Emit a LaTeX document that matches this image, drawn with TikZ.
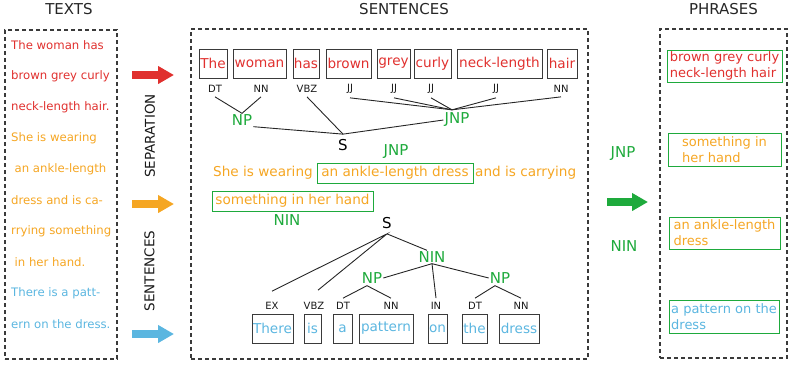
\documentclass[tikz,border=0pt]{standalone}
\usepackage{fontspec}
\setmainfont{DejaVu Sans}
\usetikzlibrary{arrows.meta,calc}
\definecolor{tred}{HTML}{E0302E}
\definecolor{torange}{HTML}{F5A623}
\definecolor{tblue}{HTML}{5BB6E0}
\definecolor{tgreen}{HTML}{1EAA3C}
\definecolor{tgray}{HTML}{3A3A3A}
\newcommand{\myfs}[2]{\fontsize{#1}{#2}\selectfont}
\begin{document}
\begin{tikzpicture}[x=1pt,y=-1pt,
  title/.style={font=\myfs{15}{18}, text=black!85, inner sep=0pt},
  panel/.style={draw=tgray, line width=1.1pt, dash pattern=on 4pt off 3pt, inner sep=0pt},
  ltext/.style={anchor=west, inner sep=0pt, font=\myfs{11.7}{14}},
  wbox/.style={draw=tgray, line width=1pt, minimum height=29pt, inner sep=0pt, font=\myfs{13.6}{16}},
  tag/.style={font=\myfs{10}{12}, text=black!90, inner sep=4pt},
  phr/.style={font=\myfs{15}{18}, text=tgreen, inner sep=1pt},
  snode/.style={font=\myfs{15}{18}, text=black, inner xsep=1pt, inner ysep=5pt},
  gbox/.style={draw=tgreen, line width=1pt, inner sep=0pt, font=\myfs{13.6}{16}},
  stext/.style={anchor=west, inner sep=0pt, font=\myfs{13.6}{16}, text=torange},
  rbox/.style={draw=tgreen, line width=1pt, inner sep=0pt, align=left, font=\myfs{13}{16}},
  tree/.style={draw=black!85, line width=0.9pt},
  bigarrow/.style={line width=8pt, -{Triangle[length=16pt,width=17pt]}},
  vtext/.style={rotate=90, font=\myfs{13.5}{16}, text=black!90, inner sep=0pt}
]
\useasboundingbox (0,0) rectangle (788,365);

% titles
\node[title] (ttexts) at (69,9) {TEXTS};
\node[title] (tsent) at (404,9) {SENTENCES};
\node[title] (tphr) at (723.5,9) {PHRASES};

% panels
\node[panel, minimum width=112pt, minimum height=329pt] (pL) at (61,194.5) {};
\node[panel, minimum width=397pt, minimum height=330pt] (pM) at (389.5,194) {};
\node[panel, minimum width=127pt, minimum height=329pt] (pR) at (723.5,193.5) {};

% left texts
\node[ltext, text=tred] (l1) at (11,45) {The woman has};
\node[ltext, text=tred] (l2) at (11,76) {brown grey curly};
\node[ltext, text=tred] (l3) at (11,107) {neck-length hair.};
\node[ltext, text=torange] (l4) at (11,138) {She is wearing};
\node[ltext, text=torange] (l5) at (14.5,169) {an ankle-length};
\node[ltext, text=torange] (l6) at (11,200) {dress and is ca-};
\node[ltext, text=torange] (l7) at (11,231) {rrying something};
\node[ltext, text=torange] (l8) at (14.5,262) {in her hand.};
\node[ltext, text=tblue] (l9) at (11,293) {There is a patt-};
\node[ltext, text=tblue] (l10) at (11,324) {ern on the dress.};

% arrows left
\coordinate (ar1) at (132,75);  \coordinate (ar2) at (174,75);
\coordinate (ao1) at (132,204); \coordinate (ao2) at (174,204);
\coordinate (ab1) at (132,334); \coordinate (ab2) at (174,334);
\draw[bigarrow, tred] (ar1) -- (ar2);
\draw[bigarrow, torange] (ao1) -- (ao2);
\draw[bigarrow, tblue] (ab1) -- (ab2);
\node[vtext] (vsep) at (150,136) {SEPARATION};
\node[vtext] (vsen) at (149.5,271) {SENTENCES};

% top sentence words
\node[wbox, text=tred, minimum width=28pt] (w1) at (213,63.5) {The};
\node[wbox, text=tred, minimum width=53pt] (w2) at (259.5,63.5) {woman};
\node[wbox, text=tred, minimum width=26pt] (w3) at (306,63.5) {has};
\node[wbox, text=tred, minimum width=45pt] (w4) at (348.5,63.5) {brown};
\node[wbox, text=tred, minimum width=33pt] (w5) at (393.5,63.5) {grey};
\node[wbox, text=tred, minimum width=37pt] (w6) at (432.5,63.5) {curly};
\node[wbox, text=tred, minimum width=85pt] (w7) at (499.5,63.5) {neck-length};
\node[wbox, text=tred, minimum width=30pt] (w8) at (562,63.5) {hair};

% top tags
\node[tag] (t1) at (215,89) {DT};
\node[tag] (t2) at (261,89) {NN};
\node[tag] (t3) at (307,89) {VBZ};
\node[tag] (t4) at (350,89) {JJ};
\node[tag] (t5) at (394,89) {JJ};
\node[tag] (t6) at (431,89) {JJ};
\node[tag] (t7) at (496,89) {JJ};
\node[tag] (t8) at (561,89) {NN};

\node[phr] (np1) at (242,120) {NP};
\node[phr] (jnp1) at (457,120) {JNP};
\node[snode] (s1) at (343,145) {S};

\draw[tree] (t1.south) -- (np1.north) -- (t2.south);
\draw[tree] (np1.south east) -- (s1.north) -- (jnp1.west);
\draw[tree] (t3.south) -- (s1.north);
\coordinate (jj) at ($(jnp1.north)+(-5,-2)$);
\foreach \t in {t4,t5,t6,t7,t8} \draw[tree] (\t.south) -- (jj);

% orange sentence
\node[phr] (jnp2) at (396,152) {JNP};
\node[stext] (o1) at (213,173) {She is wearing};
\node[gbox, text=torange, minimum width=156pt, minimum height=20pt] (o2) at (395,173) {an ankle-length dress};
\node[stext] (o3) at (475,173) {and is carrying};
\node[gbox, text=torange, minimum width=161pt, minimum height=20pt] (o4) at (292.5,201) {something in her hand};
\node[phr] (nin1) at (287,220) {NIN};

% lower tree
\node[snode] (s2) at (387,223) {S};
\node[phr] (nin2) at (432,257) {NIN};
\node[phr] (np2) at (372,278) {NP};
\node[phr] (np3) at (500,278) {NP};

\node[tag] (b1) at (272,306) {EX};
\node[tag] (b2) at (314,306) {VBZ};
\node[tag] (b3) at (343,306) {DT};
\node[tag] (b4) at (391,306) {NN};
\node[tag] (b5) at (436,306) {IN};
\node[tag] (b6) at (475,306) {DT};
\node[tag] (b7) at (521,306) {NN};

\draw[tree] ($(b1.north)+(0,-7)$) -- (s2.south) -- ($(b2.north)+(4,-8)$);
\draw[tree] (s2.south) -- ($(nin2.north)+(-5,0)$);
\draw[tree] (np2.east) -- (nin2.south) -- (np3.west);
\draw[tree] (nin2.south) -- (b5.north);
\draw[tree] (b3.north) -- ($(np2.south)+(-5,1)$) -- (b4.north);
\draw[tree] (b6.north) -- ($(np3.south)+(-5,1)$) -- (b7.north);

\node[wbox, text=tblue, minimum width=41pt] (v1) at (272.5,328.5) {There};
\node[wbox, text=tblue, minimum width=17pt] (v2) at (312.5,328.5) {is};
\node[wbox, text=tblue, minimum width=19pt] (v3) at (342.5,328.5) {a};
\node[wbox, text=tblue, minimum width=54pt] (v4) at (386,328.5) {pattern};
\node[wbox, text=tblue, minimum width=19pt] (v5) at (437.5,328.5) {on};
\node[wbox, text=tblue, minimum width=25pt] (v6) at (474.5,328.5) {the};
\node[wbox, text=tblue, minimum width=40pt] (v7) at (519,328.5) {dress};

% middle arrow
\node[phr] (jnp3) at (623,154) {JNP};
\node[phr] (nin3) at (624,246) {NIN};
\coordinate (ag1) at (607,202); \coordinate (ag2) at (648,202);
\draw[bigarrow, tgreen] (ag1) -- (ag2);

% phrases
\node[rbox, text=tred, minimum width=115pt, minimum height=32pt] (r1) at (724.5,66) {brown grey curly\\neck-length hair};
\node[rbox, text=torange, minimum width=113pt, minimum height=33pt] (r2) at (724.5,149.5) {something in\\her hand};
\node[rbox, text=torange, minimum width=111pt, minimum height=32pt] (r3) at (724.5,233) {an ankle-length\\dress};
\node[rbox, text=tblue, minimum width=110pt, minimum height=33pt] (r4) at (724,316.5) {a pattern on the\\dress};
\end{tikzpicture}
\end{document}
